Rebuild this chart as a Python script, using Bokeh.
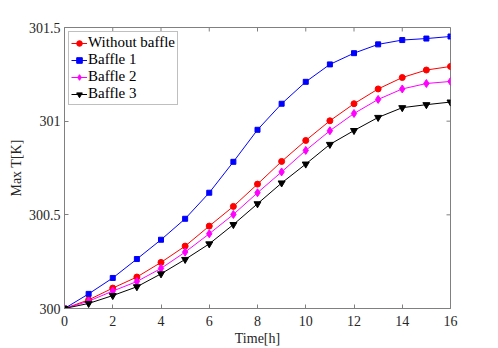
from bokeh.plotting import figure
from bokeh.models import FixedTicker, Range1d, Legend, LegendItem
from bokeh.embed import file_html
from bokeh.resources import INLINE

hours = list(range(17))
without_baffle = [0.0, 0.046, 0.109, 0.168, 0.246, 0.333, 0.440, 0.545, 0.664, 0.785,
                  0.897, 1.002, 1.093, 1.172, 1.233, 1.273, 1.292]
baffle1 = [0.0, 0.078, 0.163, 0.264, 0.367, 0.479, 0.618, 0.783, 0.954, 1.093,
           1.210, 1.303, 1.363, 1.410, 1.433, 1.441, 1.452]
baffle2 = [0.0, 0.039, 0.093, 0.144, 0.214, 0.301, 0.399, 0.502, 0.618, 0.729,
           0.844, 0.949, 1.041, 1.116, 1.172, 1.201, 1.212]
baffle3 = [0.0, 0.027, 0.069, 0.116, 0.185, 0.262, 0.345, 0.448, 0.559, 0.670,
           0.771, 0.876, 0.950, 1.020, 1.072, 1.088, 1.102]
base_T = 300.0
x_ticks = [0, 2, 4, 6, 8, 10, 12, 14, 16]
y_ticks = [300, 300.5, 301, 301.5]
y_tick_labels = {300: "300", 300.5: "300.5", 301: "301", 301.5: "301.5"}

FONT = "Liberation Serif"
AX = "#808080"

X0, X1, Y0, Y1 = 0, 16, 300, 301.5
W, H = 490, 348
ML, MR, MT, MB = 64, 40, 27, 40

p = figure(width=W, height=H, output_backend="svg", toolbar_location=None,
           x_range=Range1d(X0, X1), y_range=Range1d(Y0, Y1),
           min_border_left=ML, min_border_right=MR, min_border_top=MT, min_border_bottom=MB)
p.grid.visible = False
p.outline_line_color = AX
p.background_fill_color = "white"

for ax in (p.xaxis[0], p.yaxis[0]):
    ax.axis_line_color = AX
    ax.major_tick_line_color = AX
    ax.major_tick_in = 4
    ax.major_tick_out = 0
    ax.minor_tick_line_color = None
    ax.major_label_text_font = FONT
    ax.major_label_text_font_size = "14px"
    ax.major_label_text_color = "#262626"
    ax.axis_label_text_font = FONT
    ax.axis_label_text_font_size = "14px"
    ax.axis_label_text_font_style = "normal"
    ax.axis_label_text_color = "#262626"

p.xaxis.ticker = FixedTicker(ticks=x_ticks)
p.yaxis.ticker = FixedTicker(ticks=y_ticks)
p.yaxis.major_label_overrides = y_tick_labels
p.xaxis.axis_label = "Time[h]"
p.yaxis.axis_label = "Max T[K]"
p.xaxis.major_label_standoff = 7
p.yaxis.major_label_standoff = 4
p.xaxis.axis_label_standoff = 2
p.yaxis.axis_label_standoff = 2

# ticks on the top and right edges (box style)
frame_w = W - ML - MR
frame_h = H - MT - MB
tx = 4 * (X1 - X0) / frame_w
ty = 4 * (Y1 - Y0) / frame_h
p.segment(x0=x_ticks, y0=[Y1] * len(x_ticks), x1=x_ticks, y1=[Y1 - ty] * len(x_ticks),
          line_color=AX, line_width=1)
p.segment(x0=[X1] * len(y_ticks), y0=y_ticks, x1=[X1 - tx] * len(y_ticks), y1=y_ticks,
          line_color=AX, line_width=1)

def T(vals):
    return [base_T + v for v in vals]

items = []
series = [
    ("Without baffle", without_baffle, "#ff0000", "circle", 6),
    ("Baffle 1", baffle1, "#0000ff", "square", 5),
    ("Baffle 2", baffle2, "#ff00ff", "diamond", 8),
    ("Baffle 3", baffle3, "#000000", "inverted_triangle", 7),
]
for name, vals, col, mk, sz in series:
    ln = p.line(hours, T(vals), line_color=col, line_width=1)
    sc = p.scatter(hours, T(vals), marker=mk, size=sz, fill_color=col, line_color=col)
    items.append(LegendItem(label=name, renderers=[ln, sc]))

leg = Legend(items=items, location="top_left")
leg.label_text_font = FONT
leg.label_text_font_size = "15px"
leg.label_text_font_style = "normal"
leg.label_text_color = "#000000"
leg.glyph_width = 16
leg.glyph_height = 14
leg.label_height = 14
leg.label_standoff = 1
leg.spacing = 0
leg.padding = 2
leg.margin = 4
leg.border_line_color = AX
leg.border_line_width = 1
leg.background_fill_color = "white"
p.add_layout(leg, "center")

open("out.html", "w").write(file_html(p, INLINE))
